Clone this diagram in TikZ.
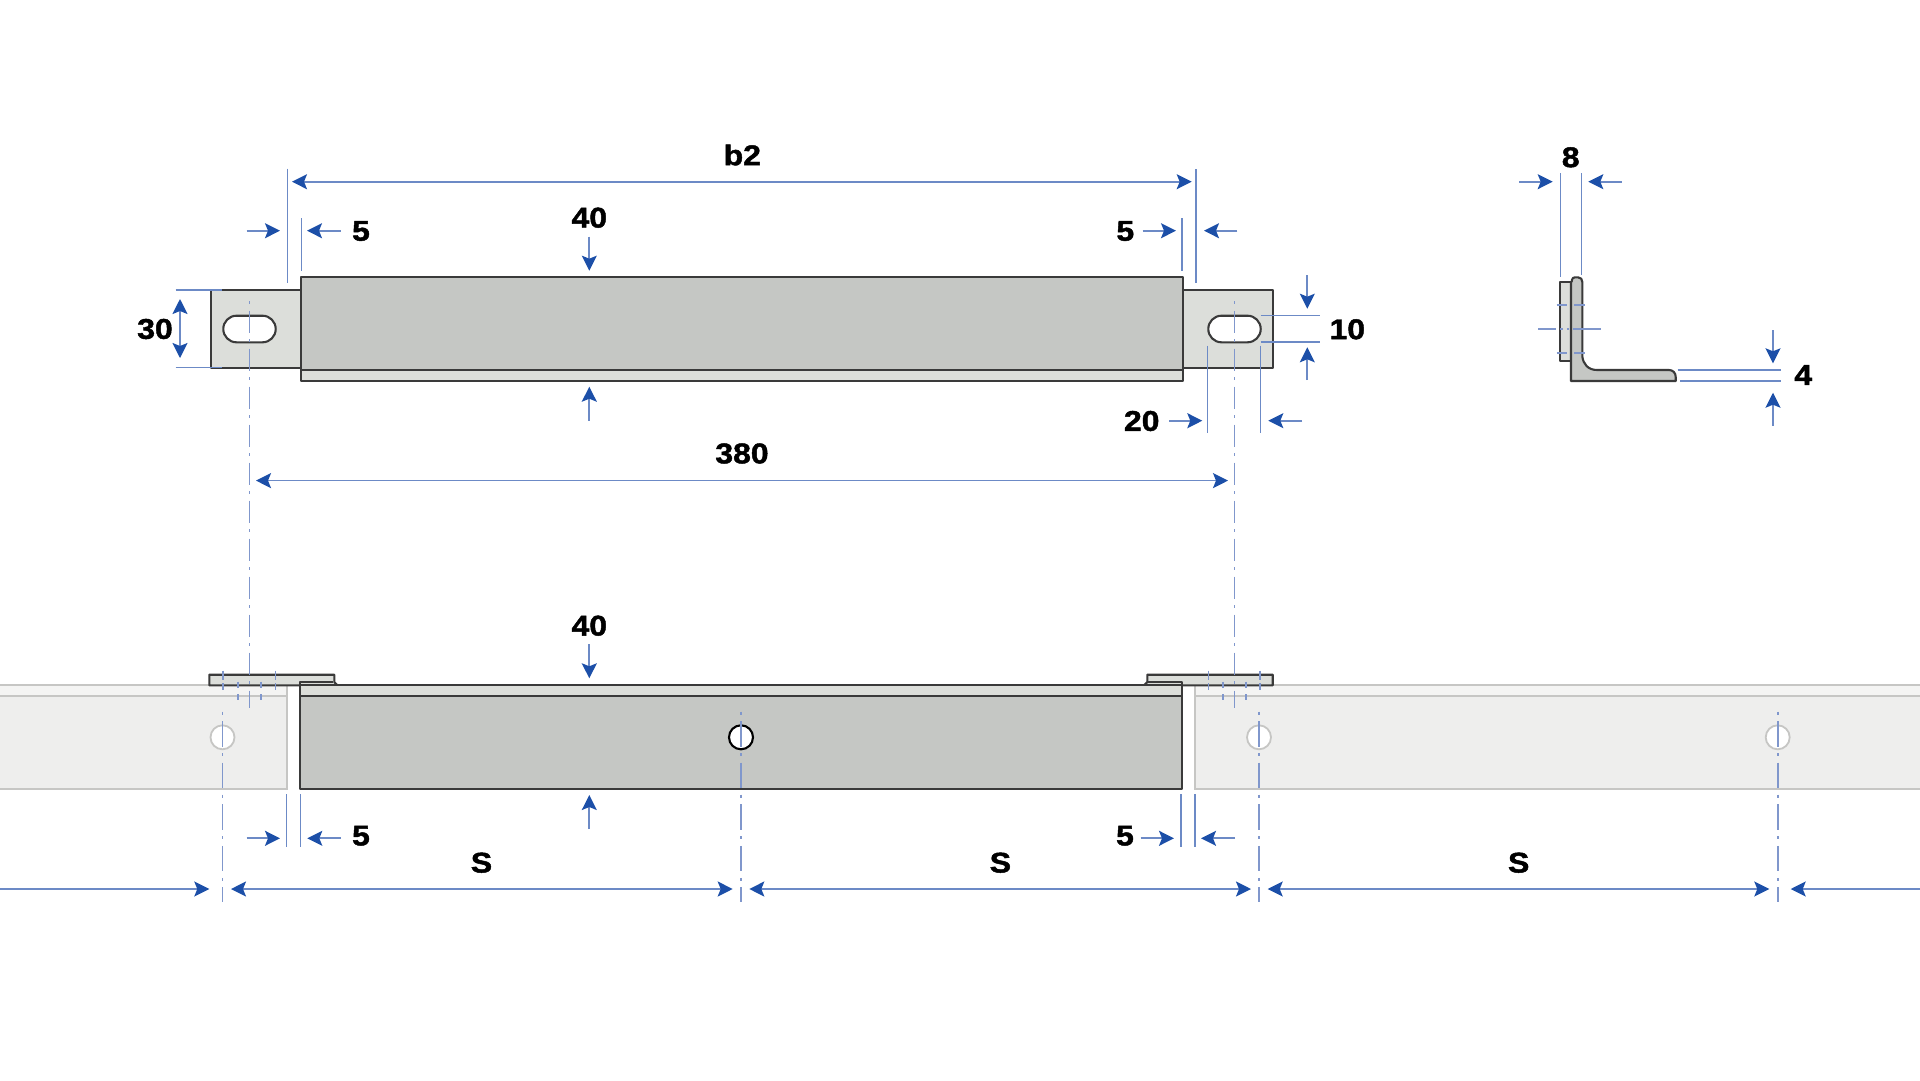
\documentclass[tikz,border=0pt]{standalone}
\usepackage{fontspec}
\usetikzlibrary{arrows.meta}
\newfontfamily\labfont[FakeStretch=1.12,BoldFeatures={FakeBold=1.6}]{Liberation Sans}
\definecolor{dimblue}{HTML}{1C4FA8}
\definecolor{dimline}{HTML}{6C8AC6}
\definecolor{cline}{HTML}{8097CC}
\definecolor{bodygrey}{HTML}{C5C7C4}
\definecolor{tabgrey}{HTML}{DCDEDA}
\definecolor{edge}{HTML}{3A3A3A}
\definecolor{railfill}{HTML}{EEEEED}
\definecolor{railtop}{HTML}{F4F4F3}
\definecolor{railedge}{HTML}{C6C6C4}
\tikzset{
  dimtip/.tip={Stealth[length=15pt,width=15pt,inset=3pt,color=dimblue]},
  dimarrow/.style={draw=dimline,line width=1.7pt,-dimtip},
  dimboth/.style={draw=dimline,line width=1.7pt,dimtip-dimtip},
  extline/.style={draw=dimline,line width=1.5pt},
  centerA/.style={draw=cline,line width=1.6pt,dash pattern=on 3pt off 6.5pt on 22pt off 6.5pt},
  centerB/.style={draw=cline,line width=1.6pt,dash pattern=on 3pt off 6.5pt on 25.5pt off 6.6pt},
  tick/.style={draw=cline,line width=1.6pt},
  bodyshape/.style={fill=bodygrey,draw=edge,line width=2.1pt,line join=round},
  tabshape/.style={fill=tabgrey,draw=edge,line width=2.1pt,line join=round},
  railshape/.style={fill=railfill,draw=railedge,line width=1.8pt},
  railstrip/.style={fill=railtop,draw=railedge,line width=1.8pt},
  lab/.style={font=\labfont\bfseries\fontsize{28.5}{28.5}\selectfont,text=black,inner sep=0pt,anchor=center},
}
\begin{document}
\begin{tikzpicture}[x=1pt,y=-1pt]
\useasboundingbox (0,0) rectangle (1920,1080);
\fill[white] (0,0) rectangle (1920,1080);

% --- rails in the lower view
\path[railshape] (-5,695.7) rectangle (287.3,789);
\path[railstrip] (-5,685) rectangle (287.3,695.7);
\path[railshape] (1194.7,695.7) rectangle (1925,789);
\path[railstrip] (1194.7,685) rectangle (1925,695.7);
\filldraw[fill=white,draw=railedge,line width=1.8pt] (222.5,737.3) circle (12);
\filldraw[fill=white,draw=railedge,line width=1.8pt] (1259,737.3) circle (12);
\filldraw[fill=white,draw=railedge,line width=1.8pt] (1777.7,737.3) circle (12);

% --- top view
\path[tabshape] (301.3,290) -- (210.7,290) -- (210.7,367.7) -- (301.3,367.7) -- cycle;
\path[tabshape] (1182.7,290) -- (1273.3,290) -- (1273.3,368) -- (1182.7,368) -- cycle;
\filldraw[fill=white,draw=edge,line width=2.1pt,rounded corners=13.2pt] (223.3,315.7) rectangle (275.7,342.3);
\filldraw[fill=white,draw=edge,line width=2.1pt,rounded corners=13.2pt] (1208.3,315.7) rectangle (1260.7,342.3);
\path[tabshape] (301.3,370) rectangle (1182.7,381);
\path[bodyshape] (301.3,277) rectangle (1182.7,370);

% --- lower view: body and tabs
\path[tabshape] (209.3,674.7) -- (334.3,674.7) -- (334.3,682) -- (337.3,685.3) -- (209.3,685.3) -- cycle;
\path[tabshape] (1272.7,674.7) -- (1147.3,674.7) -- (1147.3,682) -- (1144,685.3) -- (1272.7,685.3) -- cycle;
\path[tabshape] (300.3,685) rectangle (1182,695.7);
\path[bodyshape] (300.3,695.7) rectangle (1182,789);
\draw[edge,line width=2.1pt,line join=round] (300.3,690) -- (300.3,681.7) -- (333,681.7);
\draw[edge,line width=2.1pt,line join=round] (1182,690) -- (1182,681.7) -- (1147.5,681.7);
\filldraw[fill=white,draw=black,line width=2.1pt] (741,737.3) circle (12);

% --- centre lines
\draw[centerA] (249.3,301) -- (249.3,708);
\draw[centerA] (1234.3,301) -- (1234.3,708);
\draw[centerB] (222.5,711.5) -- (222.5,902);
\draw[centerB] (741,711.5) -- (741,902);
\draw[centerB] (1259,711.5) -- (1259,902);
\draw[centerB] (1777.7,711.5) -- (1777.7,902);
\foreach \x in {223,275.3,1208.3,1260}{
  \draw[tick] (\x,670.7) -- (\x,680);
  \draw[tick] (\x,683) -- (\x,690);
}
\foreach \x in {238,261,1222.7,1246}{
  \draw[tick] (\x,681.7) -- (\x,688);
  \draw[tick] (\x,694) -- (\x,700);
}

% --- top view dimensions
\draw[extline] (287.3,168.7) -- (287.3,283);
\draw[extline] (1196,169) -- (1196,283);
\draw[dimboth] (292,181.7) -- (1191.7,181.7);
\node[lab] (labBtwo) at (742.3,155) {b2};
\draw[extline] (301.3,218) -- (301.3,271);
\draw[extline] (1182,218) -- (1182,271);
\draw[dimarrow] (246.7,230.7) -- (280,230.7);
\draw[dimarrow] (340.7,230.7) -- (307,230.7);
\node[lab] (labFiveA) at (361,231) {5};
\draw[dimarrow] (1142.7,230.7) -- (1176,230.7);
\draw[dimarrow] (1237.3,230.7) -- (1204,230.7);
\node[lab] (labFiveB) at (1125.3,231) {5};
\draw[extline] (175.7,290) -- (221.7,290);
\draw[extline] (175.7,367.3) -- (221.7,367.3);
\draw[dimboth] (180,299) -- (180,358);
\node[lab] (labThirty) at (155,329) {30};
\draw[dimarrow] (589.3,236.7) -- (589.3,270.7);
\draw[dimarrow] (589.3,420.7) -- (589.3,386.7);
\node[lab] (labFortyA) at (589.3,217.7) {40};
\draw[extline] (1260.7,315.7) -- (1320,315.7);
\draw[extline] (1260.7,342) -- (1320,342);
\draw[dimarrow] (1307.3,275.3) -- (1307.3,308.7);
\draw[dimarrow] (1307.3,380) -- (1307.3,347.3);
\node[lab] (labTen) at (1347.3,329.3) {10};
\draw[extline] (1207.3,345.7) -- (1207.3,433);
\draw[extline] (1260.3,345.7) -- (1260.3,433);
\draw[dimarrow] (1169.3,420.7) -- (1202.3,420.7);
\draw[dimarrow] (1302,420.7) -- (1268.3,420.7);
\node[lab] (labTwenty) at (1141.7,421) {20};
\draw[dimboth] (256,480.6) -- (1228,480.6);
\node[lab] (labThreeEighty) at (742,453.5) {380};

% --- lower view dimensions
\node[lab] (labFortyB) at (589.3,625.7) {40};
\draw[dimarrow] (589.3,644.3) -- (589.3,678.3);
\draw[dimarrow] (589.3,829) -- (589.3,795);
\draw[extline] (286.7,794.3) -- (286.7,847.3);
\draw[extline] (300.3,794.3) -- (300.3,847.3);
\draw[dimarrow] (246.7,838.3) -- (280,838.3);
\draw[dimarrow] (340.7,838.3) -- (307.3,838.3);
\node[lab] (labFiveC) at (361,835.7) {5};
\draw[extline] (1181,794.3) -- (1181,847.3);
\draw[extline] (1195,794.3) -- (1195,847.3);
\draw[dimarrow] (1140.7,838.3) -- (1174,838.3);
\draw[dimarrow] (1235,838.3) -- (1201,838.3);
\node[lab] (labFiveD) at (1125,835.7) {5};
\draw[dimarrow] (0,889) -- (209.3,889);
\draw[dimboth] (231,889) -- (732.7,889);
\draw[dimboth] (749.3,889) -- (1251,889);
\draw[dimboth] (1267.7,889) -- (1769.3,889);
\draw[dimarrow] (1920,889) -- (1790.7,889);
\node[lab] (labSA) at (481.5,862.7) {S};
\node[lab] (labSB) at (1000.4,862.7) {S};
\node[lab] (labSC) at (1518.7,862.7) {S};

% --- side profile
\path[tabshape,line width=1.8pt] (1571,282.3) -- (1560.3,282.3) -- (1560.3,361) -- (1571,361) -- cycle;
\path[bodyshape] (1571,381) -- (1571,282.3) .. controls (1572.5,282) and (1571,277.3) .. (1575,277.3)
  -- (1578,277.3) .. controls (1581,277.3) and (1582.3,279.5) .. (1582.3,282)
  -- (1582.3,356) .. controls (1583,364) and (1588,370) .. (1597,370)
  -- (1669,370) .. controls (1673,370) and (1675.7,373) .. (1675.7,377) -- (1675.7,381) -- cycle;
\draw[centerB,dash pattern=on 18pt off 4pt on 2.5pt off 4pt on 2.5pt off 4pt on 28pt off 6pt on 2.5pt] (1538.3,329) -- (1601,329);
\draw[tick] (1556.7,305) -- (1566.7,305);
\draw[tick] (1574,305) -- (1585,305);
\draw[tick] (1556.7,353) -- (1566.7,353);
\draw[tick] (1574,353) -- (1585,353);
\draw[extline] (1560.3,173.3) -- (1560.3,276.7);
\draw[extline] (1581.3,173.3) -- (1581.3,275);
\draw[dimarrow] (1519.3,181.7) -- (1552.7,181.7);
\draw[dimarrow] (1621.7,181.7) -- (1588.3,181.7);
\node[lab] (labEight) at (1570.7,157.3) {8};
\draw[extline] (1677.7,370) -- (1781,370);
\draw[extline] (1680,381) -- (1781,381);
\draw[dimarrow] (1773,330.3) -- (1773,363.3);
\draw[dimarrow] (1773,425.7) -- (1773,392.7);
\node[lab] (labFour) at (1803.3,375) {4};
\end{tikzpicture}
\end{document}
